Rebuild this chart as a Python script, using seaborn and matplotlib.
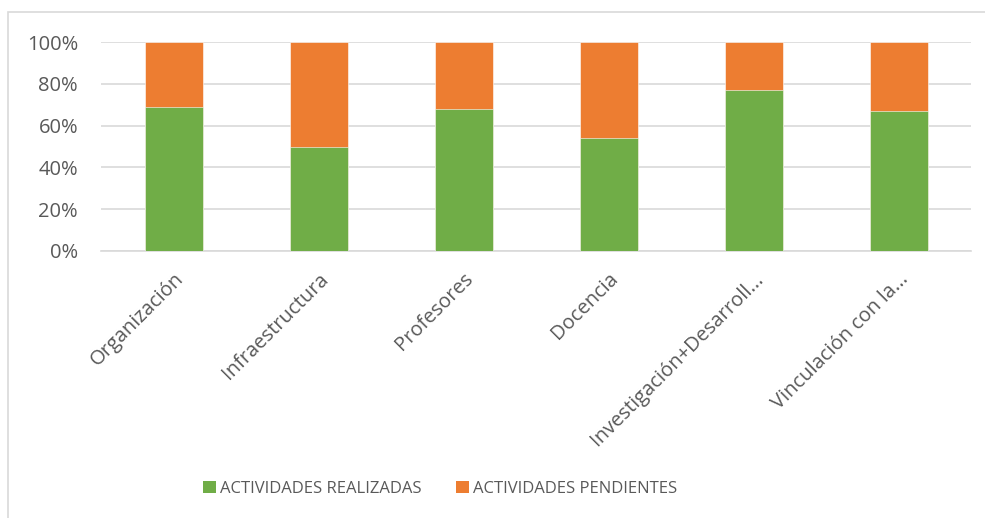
import numpy as np
import pandas as pd

import matplotlib
matplotlib.use("Agg")
import matplotlib.pyplot as plt
import seaborn as sns
from matplotlib.patches import Rectangle, Patch
from matplotlib.ticker import PercentFormatter

# ==========================================
# DATA
# ==========================================

categorias = [
    "Organización",
    "Infraestructura",
    "Profesores",
    "Docencia",
    "Investigación+Desarroll...",
    "Vinculación con la...",
]

realizadas = [69, 50, 68, 54, 77, 67]

pendientes = [31, 50, 32, 46, 23, 33]

yticks = [0, 20, 40, 60, 80, 100]

series_names = ["ACTIVIDADES REALIZADAS", "ACTIVIDADES PENDIENTES"]

# ==========================================
# STYLE
# ==========================================

verde = "#70AD47"
naranja = "#ED7D31"
gris_txt = "#595959"
gris_lin = "#D9D9D9"

sns.set_style("white")
plt.rcParams["font.family"] = ["Open Sans", "DejaVu Sans"]

df = pd.DataFrame({
    "categoria": categorias,
    "realizadas": realizadas,
    "pendientes": pendientes,
})
df["total"] = df["realizadas"] + df["pendientes"]

fig = plt.figure(figsize=(9.85, 5.18), dpi=100)

ax = fig.add_axes([101 / 985, 1 - 251 / 518, 870 / 985, 209 / 518])

# stacked: draw full height orange, then green on top
sns.barplot(
    data=df,
    x="categoria",
    y="total",
    color=naranja,
    width=0.4,
    saturation=1,
    edgecolor="white",
    linewidth=0.4,
    ax=ax,
    zorder=2,
)

sns.barplot(
    data=df,
    x="categoria",
    y="realizadas",
    color=verde,
    width=0.4,
    saturation=1,
    edgecolor="white",
    linewidth=0.4,
    ax=ax,
    zorder=3,
)

ax.set_xlim(-0.5, len(categorias) - 0.5)
ax.set_ylim(0, 100)
ax.set_yticks(yticks)
ax.yaxis.set_major_formatter(PercentFormatter(decimals=0))

ax.grid(axis="y", color=gris_lin, linewidth=1.2, zorder=0)
ax.set_axisbelow(True)

for s in ["top", "right", "left"]:
    ax.spines[s].set_visible(False)
ax.spines["bottom"].set_color(gris_lin)
ax.spines["bottom"].set_linewidth(1.2)

ax.set_xlabel("")
ax.set_ylabel("")

ax.tick_params(axis="both", length=0, labelsize=14.5, colors=gris_txt)
ax.tick_params(axis="y", pad=16.5)
ax.tick_params(axis="x", pad=13)

plt.setp(
    ax.get_xticklabels(),
    rotation=45,
    ha="right",
    rotation_mode="anchor",
)

# legend
handles = [
    Patch(facecolor=verde, edgecolor="none"),
    Patch(facecolor=naranja, edgecolor="none"),
]
fig.legend(
    handles,
    series_names,
    loc="center",
    bbox_to_anchor=(440 / 985, 1 - 489 / 518),
    ncol=2,
    frameon=False,
    fontsize=12,
    labelcolor=gris_txt,
    handlelength=0.75,
    handleheight=0.75,
    handletextpad=0.25,
    columnspacing=2.1,
)

# chart border
fig.patches.append(
    Rectangle(
        (7.5 / 985, -0.05),
        1.1,
        1 - 12 / 518 + 0.05,
        transform=fig.transFigure,
        fill=False,
        edgecolor=gris_lin,
        linewidth=1.2,
    )
)

fig.savefig("out.png", dpi=100)
plt.close(fig)
